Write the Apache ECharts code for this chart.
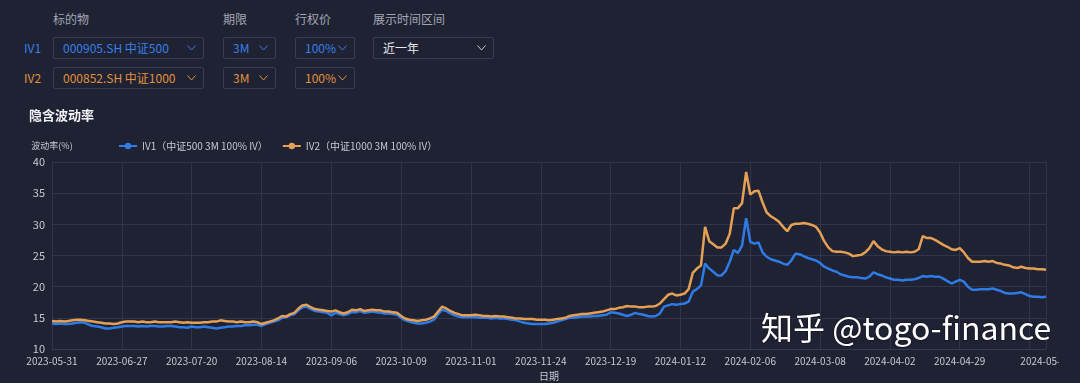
<!DOCTYPE html>
<html><head><meta charset="utf-8">
<script src="https://cdn.jsdelivr.net/npm/echarts@6/dist/echarts.min.js"></script>
<style>
html,body{margin:0;padding:0;background:#1e2233;width:1080px;height:383px;overflow:hidden;font-family:"Noto Sans CJK SC","Noto Sans",sans-serif;}
.lbl{position:absolute;font-size:12px;color:#a3a7b5;top:10px;}
.row{position:absolute;font-size:12px;}
.box{position:absolute;height:22px;border:1px solid #363b51;border-radius:2px;box-sizing:border-box;font-size:12px;line-height:20px;padding-left:9px;}
.box svg{position:absolute;right:7px;top:7px;}
#chart{position:absolute;left:0;top:100px;width:1059px;height:283px;overflow:hidden;}
</style></head><body>
<div class="lbl" style="left:53px">标的物</div>
<div class="lbl" style="left:223px">期限</div>
<div class="lbl" style="left:295px">行权价</div>
<div class="lbl" style="left:373px">展示时间区间</div>
<div id="controls"></div>
<div id="chart"></div>
<script>
const rowNames = ['IV1', 'IV2'];
const underlyings = ['000905.SH 中证500', '000852.SH 中证1000'];
const tenors = ['3M', '3M'];
const strikes = ['100%', '100%'];
const rangeLabel = '近一年';
const seriesNames = ['IV1（中证500 3M 100% IV）', 'IV2（中证1000 3M 100% IV）'];

const dates = [
'2023-05-31',
'2023-06-01','2023-06-02','2023-06-05','2023-06-06','2023-06-07','2023-06-08','2023-06-09','2023-06-12','2023-06-13','2023-06-14','2023-06-15','2023-06-16','2023-06-19','2023-06-20','2023-06-21','2023-06-26','2023-06-27','2023-06-28','2023-06-29','2023-06-30',
'2023-07-03','2023-07-04','2023-07-05','2023-07-06','2023-07-07','2023-07-10','2023-07-11','2023-07-12','2023-07-13','2023-07-14','2023-07-17','2023-07-18','2023-07-19','2023-07-20','2023-07-21','2023-07-24','2023-07-25','2023-07-26','2023-07-27','2023-07-28','2023-07-31',
'2023-08-01','2023-08-02','2023-08-03','2023-08-04','2023-08-07','2023-08-08','2023-08-09','2023-08-10','2023-08-11','2023-08-14','2023-08-15','2023-08-16','2023-08-17','2023-08-18','2023-08-21','2023-08-22','2023-08-23','2023-08-24','2023-08-25','2023-08-28','2023-08-29','2023-08-30','2023-08-31',
'2023-09-01','2023-09-04','2023-09-05','2023-09-06','2023-09-07','2023-09-08','2023-09-11','2023-09-12','2023-09-13','2023-09-14','2023-09-15','2023-09-18','2023-09-19','2023-09-20','2023-09-21','2023-09-22','2023-09-25','2023-09-26','2023-09-27','2023-09-28',
'2023-10-09','2023-10-10','2023-10-11','2023-10-12','2023-10-13','2023-10-16','2023-10-17','2023-10-18','2023-10-19','2023-10-20','2023-10-23','2023-10-24','2023-10-25','2023-10-26','2023-10-27','2023-10-30','2023-10-31',
'2023-11-01','2023-11-02','2023-11-03','2023-11-06','2023-11-07','2023-11-08','2023-11-09','2023-11-10','2023-11-13','2023-11-14','2023-11-15','2023-11-16','2023-11-17','2023-11-20','2023-11-21','2023-11-22','2023-11-23','2023-11-24','2023-11-27','2023-11-28','2023-11-29','2023-11-30',
'2023-12-01','2023-12-04','2023-12-05','2023-12-06','2023-12-07','2023-12-08','2023-12-11','2023-12-12','2023-12-13','2023-12-14','2023-12-15','2023-12-18','2023-12-19','2023-12-20','2023-12-21','2023-12-22','2023-12-25','2023-12-26','2023-12-27','2023-12-28','2023-12-29',
'2024-01-02','2024-01-03','2024-01-04','2024-01-05','2024-01-08','2024-01-09','2024-01-10','2024-01-11','2024-01-12','2024-01-15','2024-01-16','2024-01-17','2024-01-18','2024-01-19','2024-01-22','2024-01-23','2024-01-24','2024-01-25','2024-01-26','2024-01-29','2024-01-30','2024-01-31',
'2024-02-01','2024-02-02','2024-02-05','2024-02-06','2024-02-07','2024-02-08','2024-02-19','2024-02-20','2024-02-21','2024-02-22','2024-02-23','2024-02-26','2024-02-27','2024-02-28','2024-02-29',
'2024-03-01','2024-03-04','2024-03-05','2024-03-06','2024-03-07','2024-03-08','2024-03-11','2024-03-12','2024-03-13','2024-03-14','2024-03-15','2024-03-18','2024-03-19','2024-03-20','2024-03-21','2024-03-22','2024-03-25','2024-03-26','2024-03-27','2024-03-28','2024-03-29',
'2024-04-01','2024-04-02','2024-04-03','2024-04-08','2024-04-09','2024-04-10','2024-04-11','2024-04-12','2024-04-15','2024-04-16','2024-04-17','2024-04-18','2024-04-19','2024-04-22','2024-04-23','2024-04-24','2024-04-25','2024-04-26','2024-04-29','2024-04-30',
'2024-05-06','2024-05-07','2024-05-08','2024-05-09','2024-05-10','2024-05-13','2024-05-14','2024-05-15','2024-05-16','2024-05-17','2024-05-20','2024-05-21','2024-05-22','2024-05-23','2024-05-24','2024-05-27','2024-05-28','2024-05-29','2024-05-30','2024-05-31'
];

const iv1 = [
14.1,14.0,14.1,14.0,14.0,14.1,14.2,14.3,14.2,13.9,
13.7,13.6,13.5,13.3,13.3,13.4,13.5,13.6,13.7,13.7,
13.7,13.6,13.7,13.6,13.7,13.7,13.6,13.6,13.7,13.7,
13.6,13.5,13.5,13.4,13.6,13.5,13.5,13.6,13.5,13.4,
13.3,13.4,13.5,13.6,13.6,13.7,13.7,13.8,13.8,13.9,
13.9,13.7,14.0,14.2,14.4,14.6,15.0,15.1,15.4,15.6,
16.2,16.7,16.8,16.4,16.1,16.0,15.9,15.8,15.4,15.8,
15.6,15.4,15.6,15.9,15.9,16.1,15.8,15.9,16.0,15.9,
15.8,15.7,15.7,15.6,15.5,15.0,14.6,14.4,14.2,14.1,
14.1,14.2,14.4,14.7,15.6,16.3,16.1,15.7,15.4,15.2,
15.1,15.1,15.1,15.1,15.0,15.0,15.0,14.9,15.0,14.9,
14.9,14.8,14.7,14.6,14.4,14.2,14.1,14.0,14.0,14.0,
14.0,14.1,14.2,14.4,14.6,14.8,15.0,15.0,15.1,15.2,
15.2,15.2,15.3,15.3,15.4,15.5,15.9,15.8,15.7,15.5,
15.3,15.5,15.8,15.6,15.5,15.3,15.2,15.3,15.7,16.8,
17.0,17.2,17.1,17.2,17.3,17.6,19.2,19.6,20.2,23.7,
22.9,22.4,21.8,21.8,22.5,24.0,25.9,25.4,26.6,31.0,
27.2,26.9,27.1,25.5,24.8,24.4,24.2,24.0,23.7,23.5,
24.2,25.3,25.2,24.9,24.6,24.4,24.2,23.8,23.2,22.9,
22.6,22.4,22.0,21.8,21.6,21.5,21.5,21.4,21.3,21.6,
22.3,22.0,21.8,21.5,21.3,21.1,21.1,21.0,21.1,21.1,
21.2,21.4,21.7,21.6,21.7,21.6,21.6,21.3,20.9,20.5,
20.8,21.1,20.8,20.0,19.5,19.5,19.6,19.6,19.6,19.7,
19.5,19.3,19.0,18.9,18.9,19.0,19.1,18.8,18.5,18.4,
18.4,18.3,18.4
];

const iv2 = [
14.5,14.4,14.5,14.4,14.5,14.6,14.7,14.7,14.6,14.5,
14.4,14.3,14.2,14.1,14.1,14.0,14.1,14.3,14.4,14.4,
14.4,14.3,14.4,14.3,14.3,14.4,14.3,14.3,14.3,14.3,
14.4,14.3,14.2,14.3,14.2,14.2,14.2,14.3,14.3,14.4,
14.4,14.6,14.5,14.4,14.4,14.3,14.4,14.3,14.3,14.4,
14.3,14.0,14.2,14.4,14.6,14.9,15.3,15.2,15.6,15.8,
16.5,17.0,17.1,16.7,16.4,16.3,16.2,16.1,16.0,16.2,
15.9,15.7,15.9,16.3,16.2,16.4,16.1,16.2,16.3,16.2,
16.2,16.0,16.0,15.9,15.8,15.3,14.9,14.7,14.6,14.5,
14.6,14.7,14.9,15.2,16.0,16.8,16.5,16.1,15.8,15.6,
15.4,15.4,15.4,15.5,15.4,15.3,15.3,15.2,15.3,15.2,
15.2,15.1,15.0,14.9,14.9,14.8,14.8,14.8,14.7,14.7,
14.7,14.6,14.7,14.8,14.9,15.0,15.3,15.4,15.5,15.6,
15.6,15.7,15.8,15.9,16.0,16.2,16.4,16.4,16.6,16.7,
16.9,16.8,16.8,16.7,16.7,16.8,16.8,16.9,17.3,18.0,
18.7,18.9,18.6,18.7,18.9,19.6,22.2,22.9,23.4,29.6,
27.3,26.8,26.3,26.3,26.9,28.5,32.6,32.6,33.4,38.4,
34.8,35.3,35.4,33.5,31.9,31.3,30.9,30.4,29.6,28.9,
29.9,30.1,30.1,30.2,30.1,29.9,29.6,28.7,27.3,26.3,
25.7,25.6,25.6,25.5,25.3,24.9,25.0,25.1,25.5,26.2,
27.3,26.5,26.0,25.7,25.6,25.5,25.6,25.5,25.6,25.5,
25.6,26.0,28.1,27.8,27.8,27.5,27.1,26.7,26.4,26.0,
25.9,26.2,25.5,24.6,24.0,24.0,24.0,24.1,24.0,24.1,
23.8,23.7,23.5,23.4,23.1,23.0,23.2,23.0,22.9,22.9,
22.8,22.8,22.7
];

const yTicks = [10, 15, 20, 25, 30, 35, 40];

// ---- controls ----
const colors = ['#3a7fe6', '#e1913f'];
function chevron(c){return '<svg width="9" height="6" viewBox="0 0 9 6"><polyline points="0.5,0.5 4.5,5 8.5,0.5" fill="none" stroke="'+c+'" stroke-width="1"/></svg>';}
let html = '';
rowNames.forEach((n, r) => {
  const top = r === 0 ? 37 : 67;
  const c = colors[r];
  html += '<div class="row" style="left:24px;top:'+(top+1)+'px;line-height:20px;color:'+c+'">'+n+'</div>';
  html += '<div class="box" style="left:53px;top:'+top+'px;width:151px;color:'+c+'">'+underlyings[r]+chevron(c)+'</div>';
  html += '<div class="box" style="left:223px;top:'+top+'px;width:53px;color:'+c+'">'+tenors[r]+chevron(c)+'</div>';
  html += '<div class="box" style="left:295px;top:'+top+'px;width:60px;color:'+c+'">'+strikes[r]+chevron(c)+'</div>';
});
html += '<div class="box" style="left:373px;top:37px;width:121px;color:#e6e8ee">'+rangeLabel+chevron('#c9ccd6')+'</div>';
document.getElementById('controls').innerHTML = html;

// ---- chart ----
const chart = echarts.init(document.getElementById('chart'), null, {renderer: 'canvas'});
const txt = '#c6c9d4';
const isShown = (i) => (i % 17 === 0 && i !== 238) || i === dates.length - 1;
chart.setOption({
  backgroundColor: 'transparent',
  animation: false,
  textStyle: {fontFamily: '"Noto Sans CJK SC","Noto Sans",sans-serif'},
  title: {text: '隐含波动率', left: 24, top: 4, textStyle: {color: '#f0f1f5', fontSize: 13, fontWeight: 'bold'}},
  legend: {
    left: 113, top: 36, itemWidth: 18, itemHeight: 8, itemGap: 14,
    textStyle: {color: txt, fontSize: 10},
    data: seriesNames
  },
  grid: {left: 52, right: 13, top: 62, bottom: 34, containLabel: false, outerBoundsMode: 'none'},
  xAxis: {
    type: 'category', data: dates, boundaryGap: false,
    name: '日期', nameLocation: 'middle', nameGap: 21,
    nameTextStyle: {color: txt, fontSize: 10},
    axisLine: {lineStyle: {color: '#343a50'}},
    axisTick: {show: false},
    axisLabel: {color: txt, fontSize: 10, interval: (i) => isShown(i), margin: 7, hideOverlap: false},
    splitLine: {show: true, interval: (i) => i % 17 === 0 || i === dates.length - 1, lineStyle: {color: '#30354a'}}
  },
  yAxis: {
    type: 'value', min: yTicks[0], max: yTicks[yTicks.length - 1], interval: 5,
    name: '波动率(%)', nameGap: 12, nameTextStyle: {color: txt, fontSize: 9, align: 'center'},
    axisLine: {show: false}, axisTick: {show: false},
    axisLabel: {color: txt, fontSize: 11, margin: 7},
    splitLine: {lineStyle: {color: '#30354a'}}
  },
  series: [
    {name: seriesNames[0], type: 'line', data: iv1, showSymbol: false, symbol: 'circle', symbolSize: 6,
     lineStyle: {width: 2.5, color: '#2f7be6'}, itemStyle: {color: '#2f7be6'}},
    {name: seriesNames[1], type: 'line', data: iv2, showSymbol: false, symbol: 'circle', symbolSize: 6,
     lineStyle: {width: 2.5, color: '#e6a055'}, itemStyle: {color: '#e6a055'}}
  ],
  graphic: [
    {type: 'text', left: 760, top: 211, z: 100,
     style: {text: '知乎 @togo-finance', fill: '#ffffff', fontSize: 32,
       fontFamily: '"Noto Sans CJK SC",sans-serif', stroke: 'rgba(20,20,30,0.6)', lineWidth: 2}}
  ]
});
</script>
</body></html>
